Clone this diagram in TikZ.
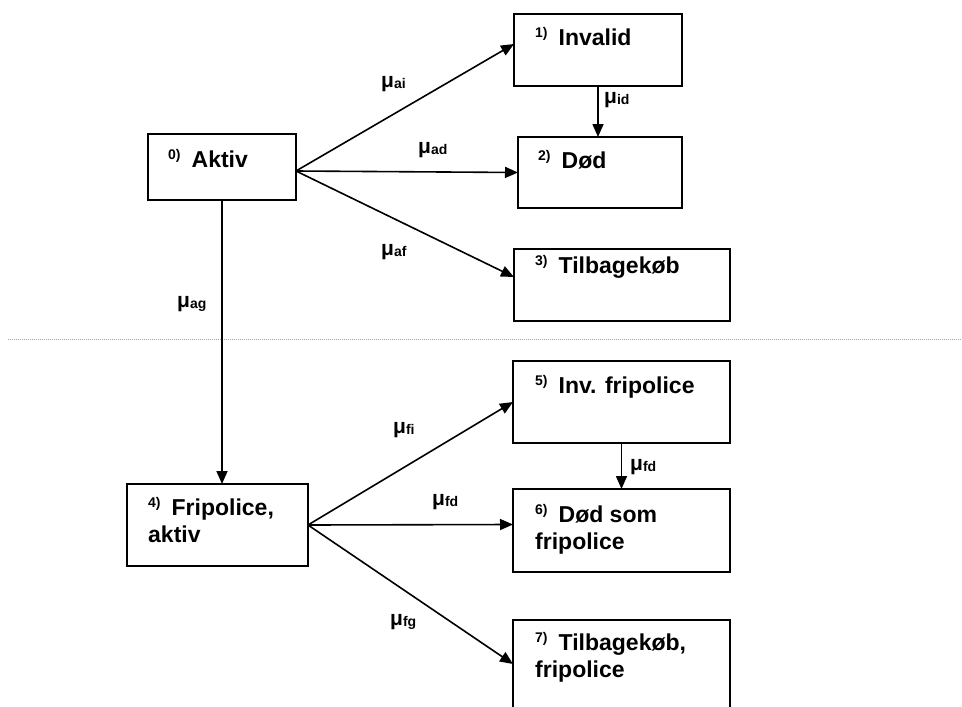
\documentclass[tikz,border=0pt]{standalone}
\usepackage{fontspec}
\setmainfont{Liberation Sans}
\usetikzlibrary{arrows.meta}
\newcommand{\stnum}[1]{\raisebox{8pt}{\fontsize{14}{14}\selectfont #1)}\hspace{11pt}}
\newcommand{\murate}[1]{{\fontsize{21}{21}\selectfont μ}\raisebox{-1pt}{\fontsize{14}{14}\selectfont #1}}
\tikzset{
  stbox/.style={draw, line width=1.8pt, anchor=north west, inner sep=0pt, outer sep=0pt},
  txt/.style={anchor=base west, inner sep=0pt, font=\bfseries\fontsize{23}{27}\selectfont},
  mulab/.style={anchor=base west, inner sep=0pt, font=\bfseries},
  arr/.style={line width=1.6pt, -{Triangle[length=13pt,width=11pt]}},
}
\begin{document}
\begin{tikzpicture}[x=1pt,y=-1pt]
\useasboundingbox (0,0) rectangle (962,707);
\clip (0,0) rectangle (962,707);
% boxes
\node[stbox, minimum width=148pt, minimum height=66pt] (A) at (148,134) {};
\node[stbox, minimum width=168pt, minimum height=72pt] (I) at (514,14) {};
\node[stbox, minimum width=164pt, minimum height=71pt] (D) at (518,137) {};
\node[stbox, minimum width=216pt, minimum height=72pt] (T) at (514,249) {};
\node[stbox, minimum width=181pt, minimum height=82pt] (F) at (127,484) {};
\node[stbox, minimum width=217pt, minimum height=82pt] (B5) at (513,361) {};
\node[stbox, minimum width=217pt, minimum height=83pt] (B6) at (513,489) {};
\node[stbox, minimum width=217pt, minimum height=94pt] (B7) at (513,620) {};
% texts
\node[txt] (tA) at (168,167) {\stnum{0}Aktiv};
\node[txt] (tI) at (535,45) {\stnum{1}Invalid};
\node[txt] (tD) at (538,168) {\stnum{2}Død};
\node[txt] (tT) at (535,273) {\stnum{3}Tilbagekøb};
\node[txt] (tF) at (148,515) {\parbox[t]{150pt}{\raggedright\stnum{4}Fripolice,\\aktiv}};
\node[txt] (t5) at (535,393) {\stnum{5}Inv. fripolice};
\node[txt] (t6) at (535,522) {\parbox[t]{190pt}{\raggedright\stnum{6}Død som\\fripolice}};
\node[txt] (t7) at (535,650) {\parbox[t]{190pt}{\raggedright\stnum{7}Tilbagekøb,\\fripolice}};
% separator
\coordinate (sepL) at (8,339);
\coordinate (sepR) at (962,339);
\draw[gray!70, line width=1pt, dash pattern=on 1pt off 1pt] (sepL) -- (sepR);
% arrows
\draw[arr] ([yshift=-4pt]A.east) -- ([yshift=6pt]I.west);
\draw[arr] ([yshift=-4pt]A.east) -- (D.west);
\draw[arr] ([yshift=-4pt]A.east) -- ([yshift=8pt]T.west);
\draw[arr] (I.south) -- (I.south |- D.north);
\draw[arr] (A.south) -- (A.south |- F.north);
\draw[arr] (F.east) -- (B5.west);
\draw[arr] (F.east) -- ([yshift=6pt]B6.west);
\draw[arr] (F.east) -- ([yshift=3pt]B7.west);
\draw[arr] (B5.south) -- (B5.south |- B6.north);
% rate labels
\node[mulab] (lai) at (381,87) {\murate{ai}};
\node[mulab] (lad) at (418,153) {\murate{ad}};
\node[mulab] (laf) at (381,255) {\murate{af}};
\node[mulab] (lag) at (177,307) {\murate{ag}};
\node[mulab] (lid) at (604,103) {\murate{id}};
\node[mulab] (lfi) at (393,433) {\murate{fi}};
\node[mulab] (lfd) at (432,505) {\murate{fd}};
\node[mulab] (lfg) at (390,625) {\murate{fg}};
\node[mulab] (lfd2) at (630,470) {\murate{fd}};
\end{tikzpicture}
\end{document}
